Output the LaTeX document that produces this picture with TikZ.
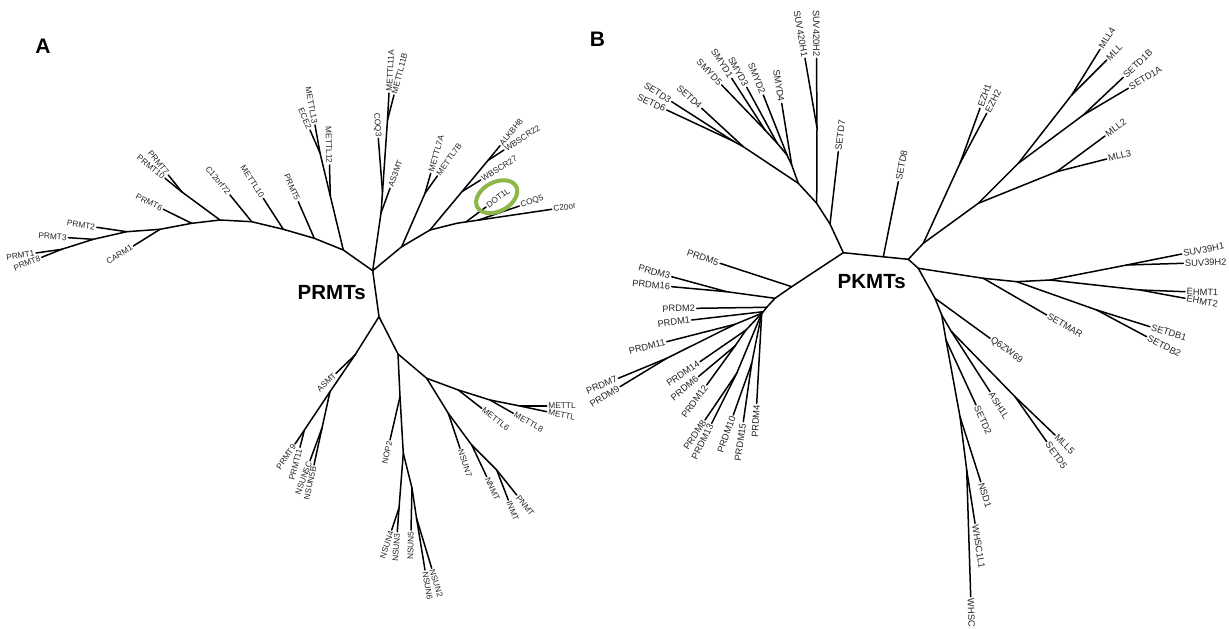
\documentclass[tikz,border=0pt]{standalone}
\usepackage{fontspec}
\setmainfont{Liberation Sans}
\usetikzlibrary{positioning}
\definecolor{ringgreen}{RGB}{141,184,72}
\tikzset{
  br/.style={line width=1.5pt, line cap=round, line join=round},
  lab/.style={pos=1, sloped, inner sep=1pt, text=black!85},
  lr/.style={lab, anchor=west},
  ll/.style={lab, anchor=east},
  group/.style={font=\fontsize{20.5}{22}\selectfont\bfseries},
  panel/.style={font=\fontsize{21}{22}\selectfont\bfseries},
}
\begin{document}
\begin{tikzpicture}[x=1pt, y=-1pt]
\useasboundingbox (0,0) rectangle (1229,629);
\fill[white] (0,0) rectangle (1229,629);

\node[panel] (A) at (43,46) {A};
\node[panel] (B) at (597.5,39.5) {B};

% panel A
\begin{scope}[every node/.append style={font=\fontsize{8.3}{9}\selectfont}]
\coordinate (rA) at (372.7,270.7);
\coordinate (a10) at (343.3,250);
\coordinate (a9) at (314.3,238.3);
\coordinate (a8) at (283.3,229.3);
\coordinate (a7) at (251.7,221.7);
\coordinate (a6) at (220,220);
\coordinate (a5) at (191.7,223.3);
\coordinate (a4) at (160,229.3);
\coordinate (a3) at (126.7,231.7);
\coordinate (a2) at (93.3,239.3);
\coordinate (a1) at (61.7,249.3);
\coordinate (a6b) at (182,192);
\coordinate (m12) at (330.3,196);
\coordinate (m13) at (320,153);
\coordinate (cq0) at (381,213);
\coordinate (cq1) at (382.5,192);
\coordinate (cq2) at (387.5,120);
\coordinate (j7) at (401.7,246.7);
\coordinate (m7) at (425,193.3);
\coordinate (pa1) at (430,230);
\coordinate (wb0) at (462,191.6);
\coordinate (wb1) at (488,160.4);
\coordinate (pa2) at (456.7,223.3);
\coordinate (dj) at (466,221.9);
\coordinate (cj) at (478,220.2);
\coordinate (L0) at (379,316.7);
\coordinate (LA) at (355,355);
\coordinate (LB) at (330,391.7);
\coordinate (LP) at (304.4,430);
\coordinate (LN) at (322,428);
\coordinate (L1) at (398,354);
\coordinate (NP) at (400,396.7);
\coordinate (N0) at (403.3,453.3);
\coordinate (N43) at (399,508);
\coordinate (N5) at (412,488);
\coordinate (N62) at (416.5,518);
\coordinate (L2) at (426.7,378.3);
\coordinate (L3) at (458.3,390);
\coordinate (L4) at (490,400);
\coordinate (L5) at (520,406);
\coordinate (L6) at (448.3,413.3);
\coordinate (L7) at (471.7,445);
\coordinate (L8) at (496.7,470);

\draw[br] (rA) -- (a10) -- (a9) -- (a8) -- (a7) -- (a6) -- (a5) -- (a4) -- (a3) -- (a2) -- (a1);
\draw[br] (a6) -- (a6b);
\draw[br] (a10) -- (m12) -- (m13);
\draw[br] (rA) -- (cq0) -- (cq1) -- (cq2);
\draw[br] (rA) -- (j7) -- (pa1) -- (pa2) -- (dj) -- (cj);
\draw[br] (j7) -- (m7);
\draw[br] (pa1) -- (wb0) -- (wb1);
\draw[br] (rA) -- (L0) -- (LA) -- (LB) -- (LP);
\draw[br] (LB) -- (LN);
\draw[br] (L0) -- (L1) -- (NP) -- (N0) -- (N43);
\draw[br] (N0) -- (N5) -- (N62);
\draw[br] (L1) -- (L2) -- (L3) -- (L4) -- (L5);
\draw[br] (L2) -- (L6) -- (L7) -- (L8);

\foreach \j/\n/\ex/\ey/\s in {
  a1/PRMT1/36/253/ll, a1/PRMT8/41.7/257.3/ll, a2/PRMT3/68.3/237.7/ll,
  a3/PRMT2/96.7/227.3/ll, a4/CARM1/133.3/246/ll, a5/PRMT6/163.3/209.3/ll,
  a6b/PRMT7/168.3/175/ll, a6b/PRMT10/165/178.3/ll, a7/C12orf72/230/195/ll,
  a8/METTL10/263.3/198.3/ll, a9/PRMT5/298.3/201.7/ll,
  m13/METTL13/315/125/ll, m13/ECE2/310/130/ll, m12/METTL12/329.5/165/ll,
  cq1/COQ3/378.3/138.3/ll, cq2/METTL11A/389/93/lr, cq2/METTL11B/394/95/lr,
  cq0/AS3MT/390/188.3/lr, m7/METTL7A/430.7/173.3/lr, m7/METTL7B/437.3/176/lr,
  wb1/ALKBH8/500/145.7/lr, wb1/WBSCR22/504/150/lr, wb0/WBSCR27/480.7/180/lr,
  dj/DOT1L/486/207/lr, cj/COQ5/519.3/206/lr, cj/C20or/551.7/209.3/lr,
  LA/ASMT/336/373.3/ll, LP/PRMT9/295/444/ll, LP/PRMT11/300/447.3/ll,
  LN/NSUN5C/310/460.7/ll, LN/NSUN5B/314/465/ll, NP/NOP2/390/440/ll,
  N43/NSUN4/391.7/530/ll, N43/NSUN3/397.3/531.7/ll, N5/NSUN5/411/530/ll,
  N62/NSUN6/425/570/lr, N62/NSUN2/431.7/568.3/lr,
  L3/METTL6/481.7/408.3/lr, L4/METTL8/513.3/413.3/lr,
  L6/NSUN7/460/448.3/lr, L7/NNMT/486.7/476.7/lr,
  L8/PNMT/516.7/495/lr, L8/INMT/508.3/500/lr}
{
  \coordinate (x\n) at (\ex,\ey);
  \draw[br] (\j) -- (x\n) node[\s] (t\n) {\n};
}
\coordinate (xMETTLa) at (546.7,406);
\coordinate (xMETTLb) at (546.7,411.7);
\draw[br] (L5) -- (xMETTLa) node[lr] (tMETTLa) {METTL};
\draw[br] (L5) -- (xMETTLb) node[lr] (tMETTLb) {METTL};

\coordinate (ring) at (496.7,196.7);
\draw[ringgreen, line width=4pt, rotate around={28:(ring)}] (ring) ellipse [x radius=22, y radius=14.5];

\node[group] (PRMTs) at (331.7,292.5) {PRMTs};
\end{scope}

% panel B
\begin{scope}[every node/.append style={font=\fontsize{9.3}{10}\selectfont}]
\coordinate (rB) at (843.3,252.7);
\coordinate (BT1) at (830,224);
\coordinate (BT2) at (816.7,203.3);
\coordinate (BT3) at (798.3,183.3);
\coordinate (SM0) at (791.7,165);
\coordinate (SM1) at (787,155);
\coordinate (SM2) at (777,143);
\coordinate (SM3) at (765,130);
\coordinate (ST0) at (743.3,146.7);
\coordinate (ST1) at (733,141);
\coordinate (sv) at (817,128);
\coordinate (S8) at (883.3,256.8);
\coordinate (BR) at (908.3,259.3);
\coordinate (BRu) at (923.3,243.3);
\coordinate (EZ) at (960,163.3);
\coordinate (M0) at (978.3,203.3);
\coordinate (M1) at (1018.3,163.3);
\coordinate (ML) at (1071.7,95);
\coordinate (SD) at (1083.3,115);
\coordinate (M23) at (1056.7,171.7);
\coordinate (BRd) at (918.3,268.3);
\coordinate (SMj) at (983.3,278.3);
\coordinate (SB) at (1016.7,281.7);
\coordinate (SV0) at (1050,280);
\coordinate (SV) at (1126.7,265);
\coordinate (EH) at (1140,290);
\coordinate (SB2) at (1096.7,310);
\coordinate (QJ) at (935,298.3);
\coordinate (D1) at (941.7,315);
\coordinate (A1) at (951,331);
\coordinate (MM) at (1015,396.7);
\coordinate (A2) at (946,340);
\coordinate (W0) at (960,416.7);
\coordinate (W1) at (966.7,470);
\coordinate (P5) at (791.7,286.7);
\coordinate (P3) at (775,298.3);
\coordinate (P316) at (726.7,291.7);
\coordinate (P2j) at (766.7,307.3);
\coordinate (P1j) at (763.3,311.7);
\coordinate (F0) at (761.7,313.3);
\coordinate (P11) at (735,324.3);
\coordinate (P79) at (666.7,358.3);
\coordinate (P14) at (746,330);
\coordinate (P612) at (735,346);
\coordinate (P813) at (736.7,373.3);
\coordinate (P1015) at (751.7,363.3);

\draw[br] (rB) -- (BT1) -- (BT2) -- (BT3) -- (SM0) -- (SM1) -- (SM2) -- (SM3);
\draw[br] (BT3) -- (ST0) -- (ST1);
\draw[br] (BT2) -- (sv);
\draw[br] (rB) -- (S8) -- (BR) -- (BRu) -- (EZ);
\draw[br] (BRu) -- (M0) -- (M1) -- (ML);
\draw[br] (M1) -- (SD);
\draw[br] (M0) -- (M23);
\draw[br] (BR) -- (BRd) -- (SMj) -- (SB) -- (SV0) -- (SV);
\draw[br] (SV0) -- (EH);
\draw[br] (SB) -- (SB2);
\draw[br] (BRd) -- (QJ) -- (D1) -- (A1) -- (MM);
\draw[br] (D1) -- (A2) -- (W0) -- (W1);
\draw[br] (rB) -- (P5) -- (P3) -- (P316);
\draw[br] (P3) -- (P2j) -- (P1j) -- (F0) -- (P11) -- (P79);
\draw[br] (F0) -- (P14) -- (P612);
\draw[br] (F0) -- (P813);
\draw[br] (F0) -- (P1015);

\foreach \j/\n/\ex/\ey/\s in {
  ST1/SETD3/671.7/101.7/ll, ST1/SETD6/666.7/110/ll, ST0/SETD4/701.7/108.3/ll,
  SM3/SMYD5/721.7/85/ll, SM3/SMYD1/731.7/78.3/ll, SM2/SMYD3/746.7/87.3/ll,
  SM1/SMYD2/763.3/95/ll, SM0/SMYD4/781.7/103.3/ll,
  sv/SUV420H1/805/58.3/ll, sv/SUV420H2/816.5/58.3/ll,
  BT1/SETD7/838.3/151.7/lr, S8/SETD8/898.3/181.7/lr,
  EZ/EZH1/980/108.3/lr, EZ/EZH2/986.7/113.3/lr,
  ML/MLL4/1100/49.3/lr, ML/MLL/1106.7/60/lr,
  SD/SETD1B/1123.3/77.3/lr, SD/SETD1A/1128.3/88.3/lr,
  M23/MLL2/1105/136/lr, M23/MLL3/1106.7/159/lr,
  SV/SUV39H1/1181.7/254/lr, SV/SUV39H2/1183.3/263.3/lr,
  EH/EHMT1/1185/291.7/lr, EH/EHMT2/1185/298.3/lr,
  SB2/SETDB1/1150/326.7/lr, SB2/SETDB2/1146.7/336.7/lr,
  SMj/SETMAR/1046.7/315/lr, QJ/Q6ZW69/990/338.3/lr,
  A1/ASH1L/990/391.7/lr, MM/MLL5/1055/435/lr, MM/SETD5/1046.7/441.7/lr,
  A2/SETD2/976/405/lr, W0/NSD1/980.7/481.7/lr,
  W1/WHSC1L1/975/523.3/lr, W1/WHSC/970.7/596.7/lr,
  P5/PRDM5/720/263.3/ll, P316/PRDM3/671.7/276.7/ll, P316/PRDM16/671.7/286.7/ll,
  P2j/PRDM2/696.7/308.3/ll, P1j/PRDM1/691.7/320/ll, P11/PRDM11/666.7/341.7/ll,
  P79/PRDM7/618.3/378.3/ll, P79/PRDM9/620/386.7/ll,
  P14/PRDM14/700/361.7/ll, P612/PRDM6/698.3/376.7/ll, P612/PRDM12/706.7/385/ll,
  P813/PRDM8/705/420/ll, P813/PRDM13/711.7/423.3/ll,
  P1015/PRDM10/733.3/415/ll, P1015/PRDM15/743.3/421.7/ll, F0/PRDM4/756.7/403.3/ll}
{
  \coordinate (x\n) at (\ex,\ey);
  \draw[br] (\j) -- (x\n) node[\s] (t\n) {\n};
}

\node[group] (PKMTs) at (871.7,281.7) {PKMTs};
\end{scope}
\end{tikzpicture}
\end{document}
